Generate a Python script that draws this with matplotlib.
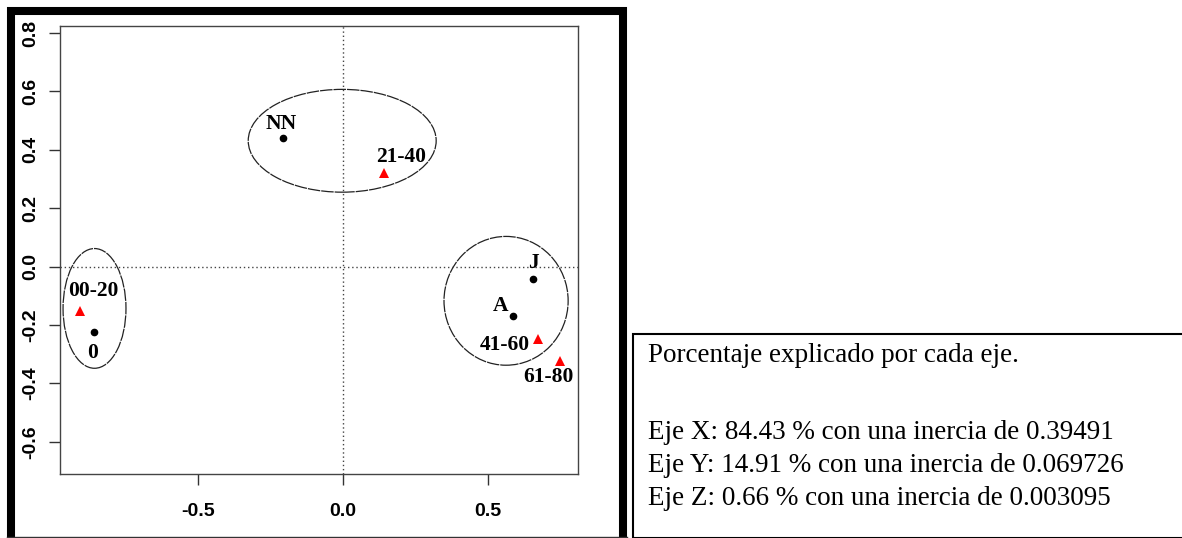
import matplotlib
matplotlib.use("Agg")
import matplotlib.pyplot as plt
from matplotlib.patches import Ellipse, Rectangle
from matplotlib.lines import Line2D

# points of the correspondence map
row_names = ["NN", "0", "J", "A"]
row_x = [-0.207, -0.859, 0.655, 0.586]
row_y = [0.441, -0.224, -0.041, -0.169]

col_names = ["21-40", "00-20", "41-60", "61-80"]
col_x = [0.141, -0.907, 0.672, 0.748]
col_y = [0.321, -0.152, -0.248, -0.324]

# groups (centre x, centre y, width, height)
group_cx = [-0.003, -0.857, 0.562]
group_cy = [0.431, -0.143, -0.117]
group_w = [0.648, 0.217, 0.428]
group_h = [0.352, 0.410, 0.441]

x_ticks = [-0.5, 0.0, 0.5]
y_ticks = [-0.6, -0.4, -0.2, 0.0, 0.2, 0.4, 0.6, 0.8]

info_lines = [
    "Porcentaje explicado por cada eje.",
    "",
    "Eje X: 84.43 % con una inercia de 0.39491",
    "Eje Y: 14.91 % con una inercia de 0.069726",
    "Eje Z: 0.66 % con una inercia de 0.003095",
]

W, H = 1182, 538
fig = plt.figure(figsize=(W / 100, H / 100), dpi=100)


def fx(px):
    return px / W


def fy(py):
    return 1 - py / H


ax = fig.add_axes([fx(60), fy(474), fx(578) - fx(60), fy(26) - fy(474)])
ax.set_xlim(-0.976, 0.81)
ax.set_ylim(-0.71, 0.824)

ax.axhline(0, color="#444444", linestyle=(0, (1, 2)), linewidth=1)
ax.axvline(0, color="#444444", linestyle=(0, (1, 2)), linewidth=1)

for cx, cy, w, h in zip(group_cx, group_cy, group_w, group_h):
    ax.add_patch(Ellipse((cx, cy), w, h, fill=False, edgecolor="#222222",
                         linewidth=0.9, linestyle=(0, (10, 0.8))))

ax.plot(row_x, row_y, "o", color="black", markersize=4.5)
ax.plot(col_x, col_y, "^", color="red", markersize=6.5, markeredgewidth=0)

lab_font = dict(family="Liberation Serif", fontweight="bold", fontsize=15.5)
# label offsets in points (dx, dy)
row_off = [(-1, 10), (-1, -15), (0, 11), (-9, 7)]
col_off = [(12, 11.5), (9.4, 14.4), (-24, -4), (-8, -11.5)]
for name, x, y, off in zip(row_names, row_x, row_y, row_off):
    ax.annotate(name, (x, y), xytext=off, textcoords="offset points",
                ha="center", va="center", **lab_font)
for name, x, y, off in zip(col_names, col_x, col_y, col_off):
    ax.annotate(name, (x, y), xytext=off, textcoords="offset points",
                ha="center", va="center", **lab_font)

ax.set_xticks(x_ticks)
ax.set_xticklabels([f"{v:.1f}" for v in x_ticks])
ax.set_yticks(y_ticks)
ax.set_yticklabels([f"{v:.1f}" for v in y_ticks], rotation=90, va="center")
ax.tick_params(axis="x", length=8, width=1, pad=13, color="#333333")
ax.tick_params(axis="y", length=8, width=1, pad=7, color="#333333")
for lbl in ax.get_xticklabels() + ax.get_yticklabels():
    lbl.set_family("Liberation Sans")
    lbl.set_fontweight("bold")
    lbl.set_fontsize(14)
for sp in ax.spines.values():
    sp.set_color("#444444")
    sp.set_linewidth(1)

# thick frame round the plot panel
frame = dict(color="black", linewidth=5.8, solid_capstyle="butt",
             transform=fig.transFigure)
fig.add_artist(Line2D([fx(11), fx(11)], [fy(7), fy(538)], **frame))
fig.add_artist(Line2D([fx(7), fx(627)], [fy(10.5), fy(10.5)], **frame))
fig.add_artist(Line2D([fx(623), fx(623)], [fy(7), fy(538)], **frame))
fig.add_artist(Line2D([fx(7), fx(627)], [fy(537), fy(537)], color="#333333",
                      linewidth=1, transform=fig.transFigure))

# text box with inertia info
fig.add_artist(Rectangle((fx(633), 0), 1 - fx(633) + 0.01, fy(334),
                         fill=False, edgecolor="black", linewidth=1.5,
                         transform=fig.transFigure))
baselines = [362, 395, 439, 472, 505]
for line, b in zip(info_lines, baselines):
    fig.text(fx(648), fy(b), line, family="Liberation Serif", fontsize=19.5,
             ha="left", va="baseline")

fig.savefig("out.png", dpi=100)
